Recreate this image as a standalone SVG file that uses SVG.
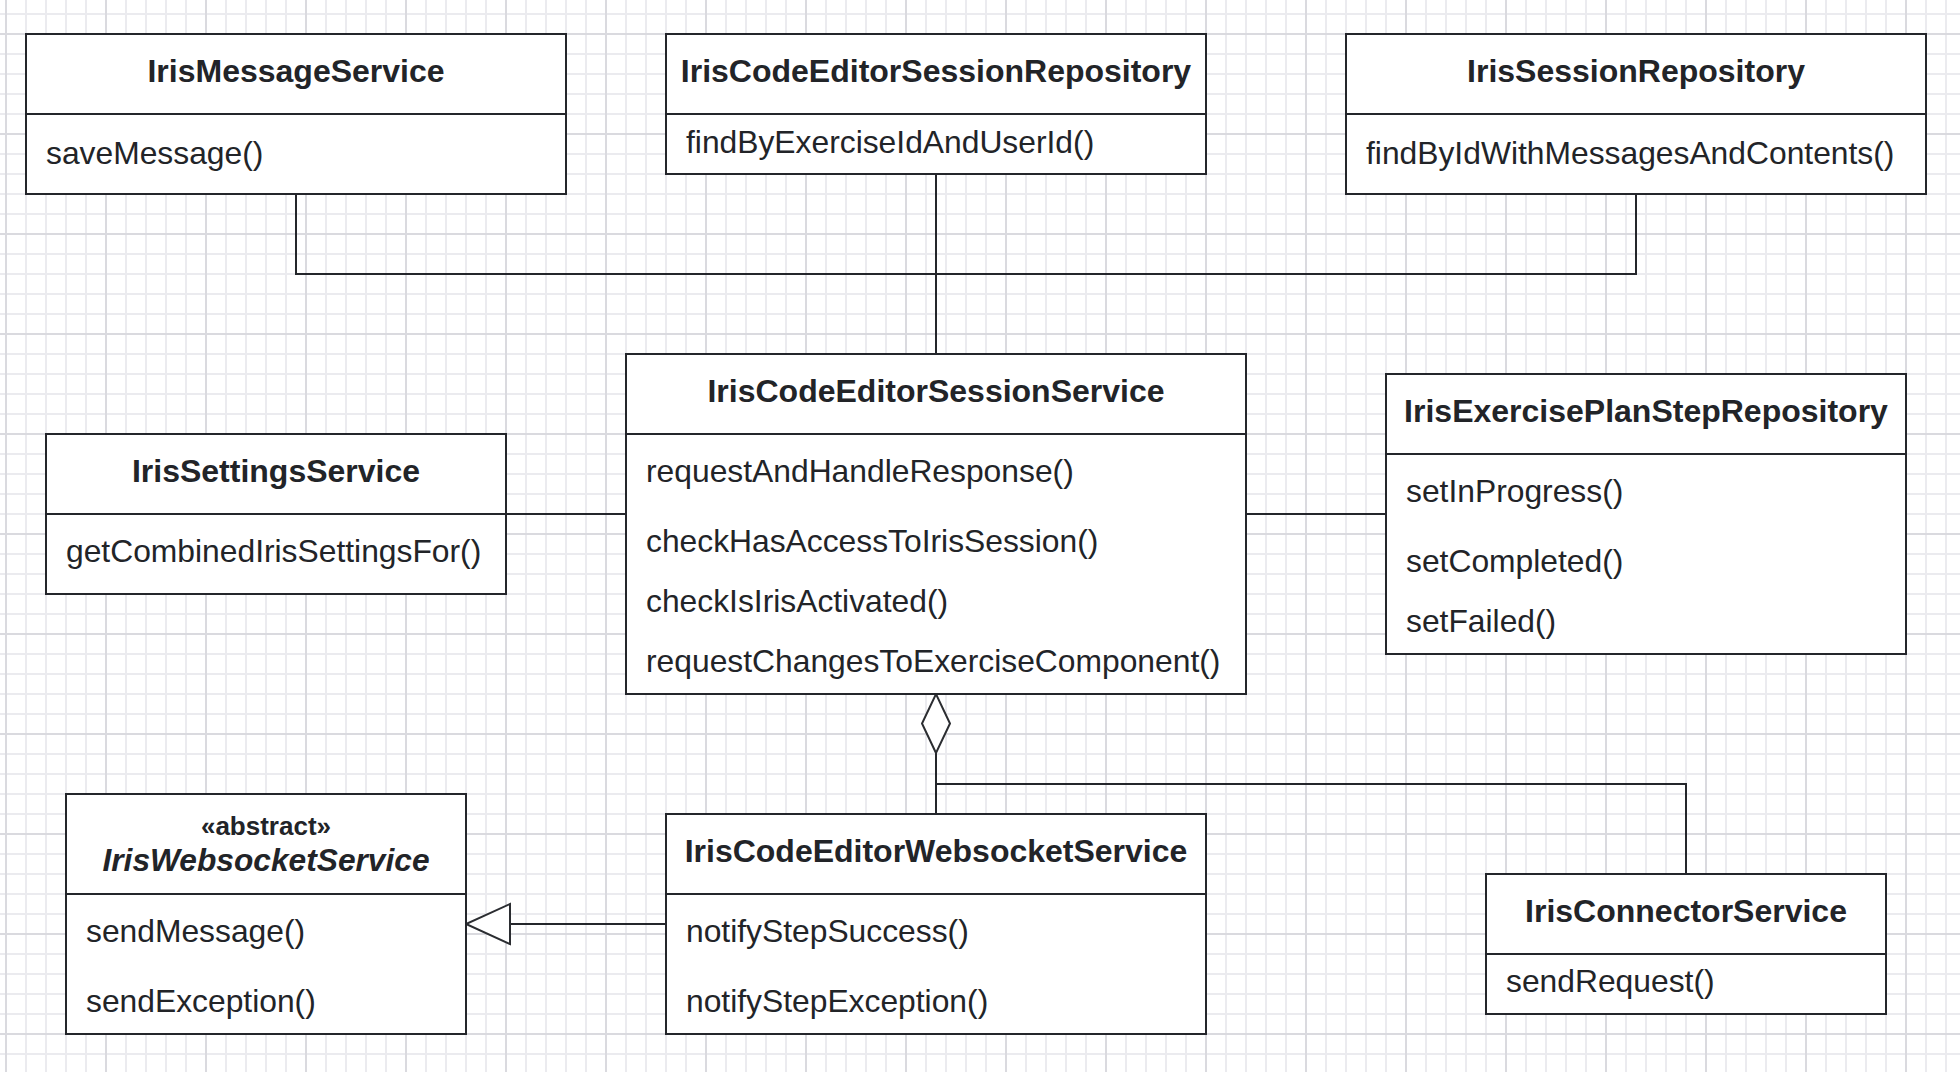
<svg xmlns="http://www.w3.org/2000/svg" width="1960" height="1072" viewBox="0 0 1960 1072">
  <style>
    .box { fill: #ffffff; stroke: #24262b; stroke-width: 2; }
    .div { stroke: #24262b; stroke-width: 2; }
    .title { font-family: "Liberation Sans", Arial, Helvetica, sans-serif; font-size: 32px; font-weight: bold; fill: #222428; text-anchor: middle; }
    .italic { font-style: italic; font-size: 31.7px; }
    .stereo { font-family: "Liberation Sans", Arial, Helvetica, sans-serif; font-size: 26px; font-weight: bold; fill: #222428; text-anchor: middle; }
    .method { font-family: "Liberation Sans", Arial, Helvetica, sans-serif; font-size: 31.8px; fill: #222428; }
    .conn { fill: none; stroke: #24262b; stroke-width: 2; }
    .head { fill: #ffffff; stroke: #2b2d31; stroke-width: 2; }
  </style>
  <defs>
    <pattern id="gridMinor" width="20" height="20" x="-4" y="4" patternUnits="userSpaceOnUse">
      <path d="M10 0 V20 M0 10 H20" fill="none" stroke="#ebebef" stroke-width="2"/>
    </pattern>
    <pattern id="gridMajor" width="100" height="100" x="-44" y="-16" patternUnits="userSpaceOnUse">
      <path d="M50 0 V100 M0 50 H100" fill="none" stroke="#dadadf" stroke-width="2"/>
    </pattern>
    <!-- hollow triangle: generalization -->
    <marker id="inherit" viewBox="0 0 44 40" refX="44" refY="20" markerWidth="44" markerHeight="40" markerUnits="userSpaceOnUse" orient="auto" overflow="visible">
      <path class="head" d="M0 0 L44 20 L0 40 Z"/>
    </marker>
    <!-- hollow diamond: aggregation -->
    <marker id="aggregate" viewBox="0 0 59 28" refX="59" refY="14" markerWidth="59" markerHeight="28" markerUnits="userSpaceOnUse" orient="auto" overflow="visible">
      <path class="head" d="M0 14 L29.5 0 L59 14 L29.5 28 Z"/>
    </marker>
  </defs>

  <!-- canvas grid -->
  <rect width="1960" height="1072" fill="#ffffff"/>
  <rect width="1960" height="1072" fill="url(#gridMinor)"/>
  <rect width="1960" height="1072" fill="url(#gridMajor)"/>

  <!-- connectors -->
  <g id="connectors">
    <path class="conn" d="M296 194 V274 H1636 V194"/>
    <path class="conn" d="M936 174 V354"/>
    <path class="conn" d="M506 514 H626"/>
    <path class="conn" d="M1246 514 H1386"/>
    <path class="conn" d="M666 924 H466" marker-end="url(#inherit)"/>
    <path class="conn" d="M936 784 H1686 V874"/>
    <path class="conn" d="M936 814 V694" marker-end="url(#aggregate)"/>
  </g>

  <g id="IrisMessageService">
    <rect class="box" x="26" y="34" width="540" height="160"/>
    <line class="div" x1="26" y1="114" x2="566" y2="114"/>
    <text class="title" x="296" y="82">IrisMessageService</text>
    <text class="method" x="46" y="164">saveMessage()</text>
  </g>

  <g id="IrisCodeEditorSessionRepository">
    <rect class="box" x="666" y="34" width="540" height="140"/>
    <line class="div" x1="666" y1="114" x2="1206" y2="114"/>
    <text class="title" x="936" y="82">IrisCodeEditorSessionRepository</text>
    <text class="method" x="686" y="153">findByExerciseIdAndUserId()</text>
  </g>

  <g id="IrisSessionRepository">
    <rect class="box" x="1346" y="34" width="580" height="160"/>
    <line class="div" x1="1346" y1="114" x2="1926" y2="114"/>
    <text class="title" x="1636" y="82">IrisSessionRepository</text>
    <text class="method" x="1366" y="164">findByIdWithMessagesAndContents()</text>
  </g>

  <g id="IrisSettingsService">
    <rect class="box" x="46" y="434" width="460" height="160"/>
    <line class="div" x1="46" y1="514" x2="506" y2="514"/>
    <text class="title" x="276" y="482">IrisSettingsService</text>
    <text class="method" x="66" y="562">getCombinedIrisSettingsFor()</text>
  </g>

  <g id="IrisCodeEditorSessionService">
    <rect class="box" x="626" y="354" width="620" height="340"/>
    <line class="div" x1="626" y1="434" x2="1246" y2="434"/>
    <text class="title" x="936" y="402">IrisCodeEditorSessionService</text>
    <text class="method" x="646" y="482">requestAndHandleResponse()</text>
    <text class="method" x="646" y="552">checkHasAccessToIrisSession()</text>
    <text class="method" x="646" y="612">checkIsIrisActivated()</text>
    <text class="method" x="646" y="672">requestChangesToExerciseComponent()</text>
  </g>

  <g id="IrisExercisePlanStepRepository">
    <rect class="box" x="1386" y="374" width="520" height="280"/>
    <line class="div" x1="1386" y1="454" x2="1906" y2="454"/>
    <text class="title" x="1646" y="422">IrisExercisePlanStepRepository</text>
    <text class="method" x="1406" y="502">setInProgress()</text>
    <text class="method" x="1406" y="572">setCompleted()</text>
    <text class="method" x="1406" y="632">setFailed()</text>
  </g>

  <g id="IrisWebsocketService">
    <rect class="box" x="66" y="794" width="400" height="240"/>
    <line class="div" x1="66" y1="894" x2="466" y2="894"/>
    <text class="stereo" x="266" y="835">«abstract»</text>
    <text class="title italic" x="266" y="871">IrisWebsocketService</text>
    <text class="method" x="86" y="942">sendMessage()</text>
    <text class="method" x="86" y="1012">sendException()</text>
  </g>

  <g id="IrisCodeEditorWebsocketService">
    <rect class="box" x="666" y="814" width="540" height="220"/>
    <line class="div" x1="666" y1="894" x2="1206" y2="894"/>
    <text class="title" x="936" y="862">IrisCodeEditorWebsocketService</text>
    <text class="method" x="686" y="942">notifyStepSuccess()</text>
    <text class="method" x="686" y="1012">notifyStepException()</text>
  </g>

  <g id="IrisConnectorService">
    <rect class="box" x="1486" y="874" width="400" height="140"/>
    <line class="div" x1="1486" y1="954" x2="1886" y2="954"/>
    <text class="title" x="1686" y="922">IrisConnectorService</text>
    <text class="method" x="1506" y="992">sendRequest()</text>
  </g>
</svg>
